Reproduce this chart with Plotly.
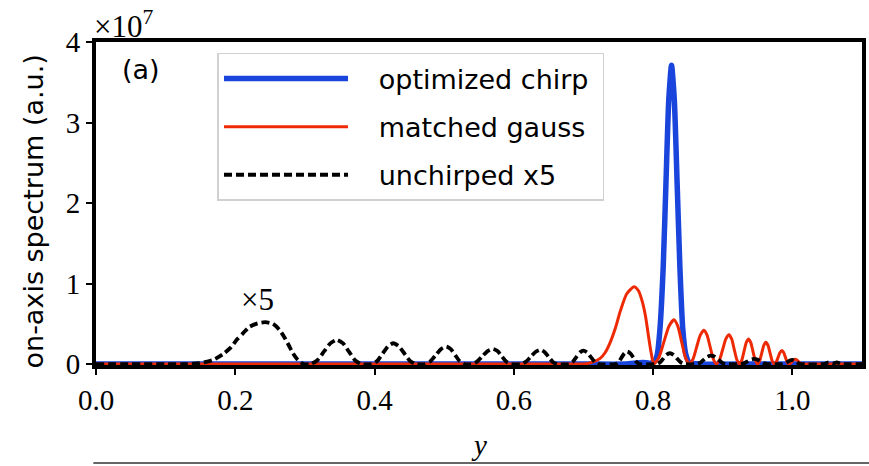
import plotly.graph_objects as go

# ---- data (values in units of 1e7) ----
x_blue = [0.0, 0.70, 0.76, 0.785, 0.795, 0.802, 0.806, 0.810, 0.8145, 0.8185, 0.8225, 0.8265,
          0.8305, 0.8345, 0.8385, 0.8425, 0.847, 0.852, 0.87, 0.95, 1.1]
y_blue = [0, 0, 0, 0.02, 0.01, 0.03, 0.12, 0.45, 1.20, 2.25, 3.28, 3.71,
          3.28, 2.25, 1.20, 0.45, 0.12, 0.02, 0, 0, 0]

x_red = [0.0, 0.69,
         0.70, 0.712, 0.724, 0.731, 0.738, 0.746, 0.753, 0.762, 0.7727, 0.779, 0.784, 0.789, 0.793, 0.797,
         0.801, 0.8083, 0.8155, 0.8228, 0.830, 0.8355, 0.841, 0.8465,
         0.852, 0.8573, 0.8625, 0.8678, 0.873, 0.8775, 0.882, 0.8865,
         0.891, 0.8955, 0.900, 0.9045, 0.909, 0.9128, 0.9165, 0.9203,
         0.924, 0.9273, 0.9305, 0.9338, 0.937, 0.9403, 0.9435, 0.9468,
         0.950, 0.953, 0.956, 0.959, 0.962, 0.965, 0.968, 0.971,
         0.974, 0.9768, 0.9795, 0.9823, 0.985, 0.9875, 0.990, 0.9925,
         0.995, 0.9973, 0.9995, 1.0018, 1.004, 1.0065, 1.009, 1.0115,
         1.014, 1.03, 1.1]
y_red = [0, 0,
         0.0, 0.02, 0.07, 0.14, 0.26, 0.45, 0.66, 0.87, 0.96, 0.91, 0.79, 0.60, 0.37, 0.15,
         0.0, 0.08, 0.275, 0.47, 0.55, 0.47, 0.275, 0.08,
         0.0, 0.061, 0.21, 0.359, 0.42, 0.359, 0.21, 0.061,
         0.0, 0.053, 0.183, 0.312, 0.365, 0.312, 0.183, 0.053,
         0.0, 0.045, 0.155, 0.265, 0.31, 0.265, 0.155, 0.045,
         0.0, 0.039, 0.135, 0.231, 0.27, 0.231, 0.135, 0.039,
         0.0, 0.024, 0.083, 0.143, 0.167, 0.143, 0.083, 0.024,
         0.0, 0.009, 0.03, 0.051, 0.06, 0.051, 0.03, 0.009,
         0.0, 0.0, 0.0]

x_black = [0.0, 0.13, 0.149, 0.168, 0.182, 0.193, 0.203, 0.212, 0.22, 0.232, 0.243, 0.254, 0.263,
           0.270, 0.277, 0.283, 0.289, 0.294, 0.298,
           0.308, 0.3175, 0.327, 0.3365, 0.346, 0.3548, 0.3635, 0.3723, 0.381,
           0.396, 0.4038, 0.4115, 0.4193, 0.427, 0.435, 0.443, 0.451, 0.459,
           0.472, 0.4798, 0.4875, 0.4953, 0.503, 0.5095, 0.516, 0.5225, 0.529,
           0.539, 0.5468, 0.5545, 0.5623, 0.570, 0.5765, 0.583, 0.5895, 0.596,
           0.610, 0.617, 0.624, 0.631, 0.638, 0.644, 0.650, 0.656, 0.662,
           0.679, 0.6843, 0.6895, 0.6948, 0.700, 0.7055, 0.711, 0.7165, 0.722,
           0.746, 0.7503, 0.7545, 0.7588, 0.763, 0.7673, 0.772, 0.7765, 0.781,
           0.805, 0.8098, 0.8145, 0.8193, 0.824, 0.8293, 0.8345, 0.8398, 0.845,
           0.862, 0.8673, 0.8725, 0.8778, 0.883, 0.8885, 0.894, 0.8995, 0.905,
           0.926, 0.9308, 0.9355, 0.9403, 0.945, 0.9498, 0.9545, 0.9593, 0.964,
           0.986, 0.9895, 0.993, 0.9965, 1.000, 1.003, 1.006, 1.009, 1.012,
           1.045, 1.052, 1.058, 1.064, 1.071, 1.1]
y_black = [0, 0, 0.01, 0.05, 0.12, 0.20, 0.31, 0.39, 0.46, 0.505, 0.52, 0.50, 0.43,
           0.34, 0.23, 0.13, 0.06, 0.02, 0,
           0, 0.044, 0.15, 0.256, 0.30, 0.256, 0.15, 0.044, 0,
           0, 0.038, 0.129, 0.22, 0.258, 0.22, 0.129, 0.038, 0,
           0, 0.032, 0.108, 0.185, 0.217, 0.185, 0.108, 0.032, 0,
           0, 0.027, 0.094, 0.161, 0.188, 0.161, 0.094, 0.027, 0,
           0, 0.026, 0.088, 0.150, 0.176, 0.150, 0.088, 0.026, 0,
           0, 0.024, 0.083, 0.143, 0.167, 0.143, 0.083, 0.024, 0,
           0, 0.023, 0.078, 0.132, 0.155, 0.132, 0.078, 0.023, 0,
           0, 0.02, 0.067, 0.114, 0.134, 0.114, 0.067, 0.02, 0,
           0, 0.015, 0.052, 0.09, 0.105, 0.09, 0.052, 0.015, 0,
           0, 0.009, 0.032, 0.055, 0.064, 0.055, 0.032, 0.009, 0,
           0, 0.008, 0.026, 0.044, 0.052, 0.044, 0.026, 0.008, 0,
           0, 0.02, 0.005, 0.02, 0, 0]

x_ticks = [0.0, 0.2, 0.4, 0.6, 0.8, 1.0]
x_ticklabels = ["0.0", "0.2", "0.4", "0.6", "0.8", "1.0"]
y_ticks = [0, 1, 2, 3, 4]
y_ticklabels = ["0", "1", "2", "3", "4"]

names = ["optimized chirp", "matched gauss", "unchirped x5"]

SERIF = "Liberation Serif"
SANS = "DejaVu Sans"
PAD = "\u00a0\u00a0\u00a0"
TAIL = "\u00a0"

fig = go.Figure()
fig.add_trace(go.Scatter(x=x_blue, y=y_blue, mode="lines", name=PAD + names[0] + TAIL, legendgroup="a",
                         line=dict(color="#1a45dc", width=5.5, shape="spline", smoothing=0.6)))
fig.add_trace(go.Scatter(x=x_red, y=y_red, mode="lines", name=PAD + names[1], legendgroup="b",
                         line=dict(color="#ee2a05", width=3, shape="spline", smoothing=0.6)))
fig.add_trace(go.Scatter(x=x_black, y=y_black, mode="lines", name=PAD + names[2], legendgroup="c",
                         line=dict(color="black", width=3.8, dash="8px,4px", shape="spline", smoothing=0.6)))

fig.update_layout(
    width=869, height=466,
    margin=dict(l=96, r=3, t=42, b=101),
    paper_bgcolor="white", plot_bgcolor="white",
    showlegend=True,
    legend=dict(x=0.1586, y=0.966, xanchor="left", yanchor="top",
                bgcolor="white", bordercolor="#d0d0d0", borderwidth=1.5,
                font=dict(family=SANS, size=27, color="black"),
                itemwidth=124, tracegroupgap=10, traceorder="grouped"),
)
fig.update_xaxes(range=[0, 1.1], tickvals=x_ticks, ticktext=x_ticklabels,
                 showgrid=False, zeroline=False, showline=True, linecolor="black", linewidth=4,
                 mirror=True, ticks="outside", ticklen=6, tickwidth=2, tickcolor="black",
                 tickfont=dict(family=SERIF, size=29, color="black"))
fig.update_yaxes(range=[-0.012, 4], tickvals=y_ticks, ticktext=y_ticklabels,
                 showgrid=False, zeroline=False, showline=True, linecolor="black", linewidth=4,
                 mirror=True, ticks="outside", ticklen=6, tickwidth=2, tickcolor="black",
                 tickfont=dict(family=SERIF, size=29, color="black"))

fig.add_annotation(text="on-axis spectrum (a.u.)", xref="paper", yref="paper", x=0, y=0.5,
                   xanchor="center", yanchor="middle", xshift=-63, yshift=-8, textangle=-90,
                   showarrow=False, font=dict(family=SANS, size=27, color="black"))
fig.add_annotation(text="×10<sup>7</sup>", xref="paper", yref="paper", x=0, y=1,
                   xanchor="left", yanchor="bottom", xshift=-4, yshift=-4, showarrow=False,
                   font=dict(family=SERIF, size=31, color="black"))
fig.add_annotation(text="(a)", xref="paper", yref="paper", x=0, y=1,
                   xanchor="center", yanchor="middle", xshift=45, yshift=-27, showarrow=False,
                   font=dict(family=SANS, size=27, color="black"))
fig.add_annotation(text="×5", x=0.232, y=0.80, xref="x", yref="y", showarrow=False,
                   xanchor="center", yanchor="middle",
                   font=dict(family=SERIF, size=31, color="black"))
fig.add_annotation(text="<i>y</i>", xref="paper", yref="paper", x=0.5, y=0,
                   xanchor="center", yanchor="middle", yshift=-80, showarrow=False,
                   font=dict(family=SERIF, size=29, color="black"))
fig.add_shape(type="line", xref="paper", yref="paper", x0=-0.0035, x1=1.01, y0=-0.3034, y1=-0.3034,
              line=dict(color="#333333", width=1.5))

fig.write_html("out.html")
